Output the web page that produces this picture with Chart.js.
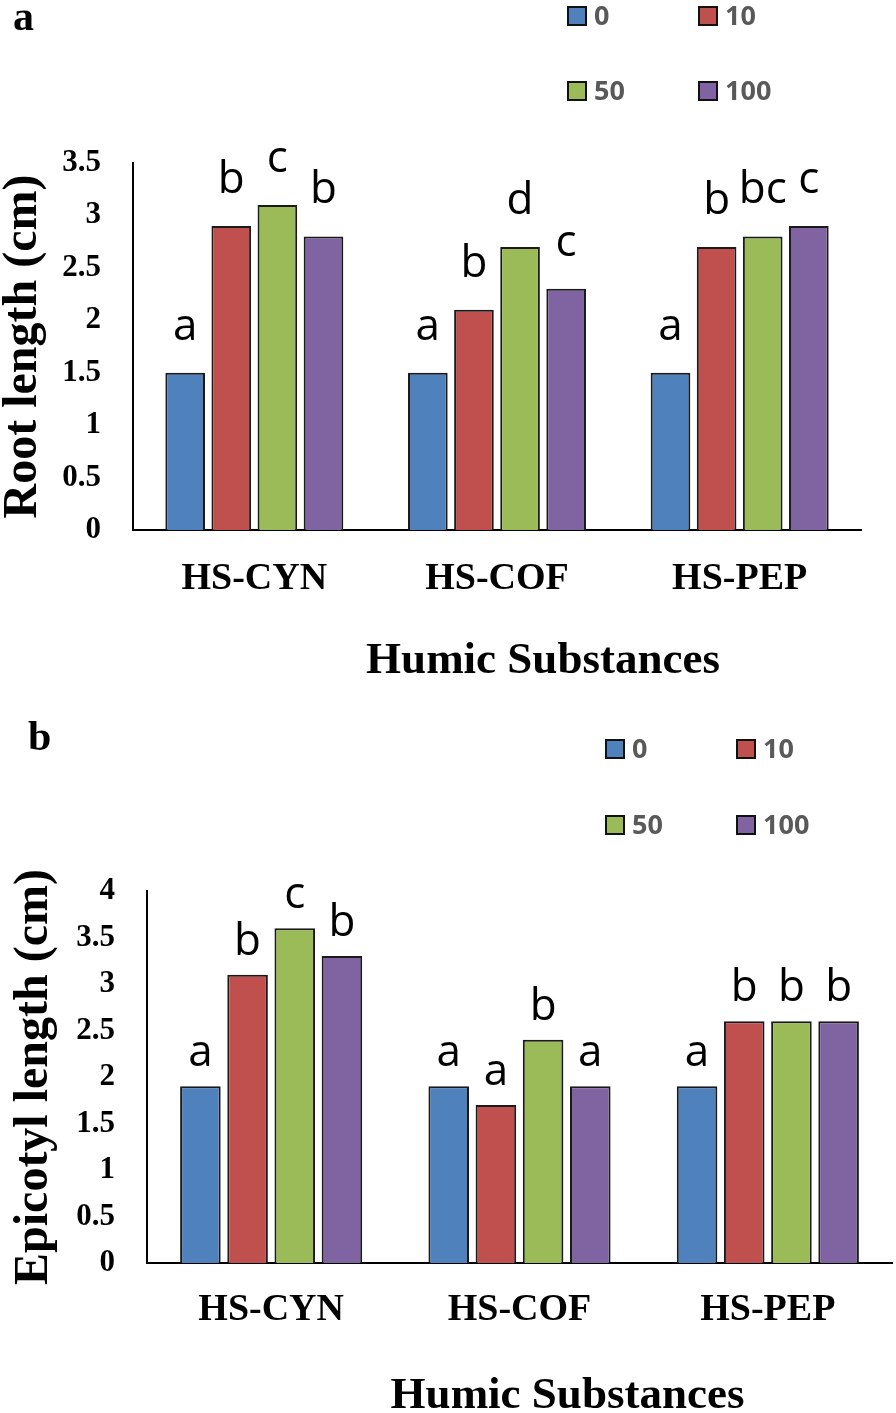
<!DOCTYPE html>
<html>
<head>
<meta charset="utf-8">
<title>Root and epicotyl length</title>
<script src="https://cdn.jsdelivr.net/npm/chart.js@4.4.0/dist/chart.umd.min.js"></script>
<style>
    body { margin: 0; background: #fff; }
    canvas { display: block; }
</style>
</head>
<body>
<canvas id="rootChart" width="896" height="700"></canvas>
<canvas id="epiChart" width="896" height="713"></canvas>
<script>
// Categories and series (concentrations)
const categories = ["HS-CYN", "HS-COF", "HS-PEP"];
const seriesNames = ["0", "10", "50", "100"];
const seriesColors = ["#4F81BD", "#C0504D", "#9BBB59", "#8064A2"];

// Panel a: root length (cm)
const root0 = [1.5, 1.5, 1.5];
const root10 = [2.9, 2.1, 2.7];
const root50 = [3.1, 2.7, 2.8];
const root100 = [2.8, 2.3, 2.9];
const rootLetters0 = ["a", "a", "a"];
const rootLetters10 = ["b", "b", "b"];
const rootLetters50 = ["c", "d", "bc"];
const rootLetters100 = ["b", "c", "c"];

// Panel b: epicotyl length (cm)
const epi0 = [1.9, 1.9, 1.9];
const epi10 = [3.1, 1.7, 2.6];
const epi50 = [3.6, 2.4, 2.6];
const epi100 = [3.3, 1.9, 2.6];
const epiLetters0 = ["a", "a", "a"];
const epiLetters10 = ["b", "a", "b"];
const epiLetters50 = ["c", "b", "b"];
const epiLetters100 = ["b", "a", "b"];

const serif = "'Liberation Serif', 'Times New Roman', serif";
const sans = "'Open Sans', 'Noto Sans', sans-serif";

// Significance letters above every bar
const barLetters = {
    id: "barLetters",
    afterDatasetsDraw(chart, args, opts) {
        const ctx = chart.ctx;
        ctx.save();
        ctx.font = "44px " + sans;
        ctx.fillStyle = "#000";
        ctx.textAlign = "center";
        ctx.textBaseline = "alphabetic";
        chart.data.datasets.forEach((ds, i) => {
            chart.getDatasetMeta(i).data.forEach((bar, j) => {
                ctx.fillText(ds.letters[j], bar.x, bar.y - opts.gap);
            });
        });
        ctx.restore();
    }
};

// 2x2 legend, panel letter and x axis title
const extras = {
    id: "extras",
    afterDraw(chart, args, opts) {
        const ctx = chart.ctx;
        ctx.save();
        ctx.font = "bold 27px " + sans;
        ctx.textAlign = "left";
        ctx.textBaseline = "middle";
        chart.data.datasets.forEach((ds, i) => {
            const x = opts.legendX + (i % 2) * opts.colGap;
            const y = opts.legendY + Math.floor(i / 2) * opts.rowGap;
            ctx.fillStyle = ds.backgroundColor;
            ctx.fillRect(x, y - 9, 18, 18);
            ctx.lineWidth = 2;
            ctx.strokeStyle = "#111";
            ctx.strokeRect(x, y - 9, 18, 18);
            ctx.fillStyle = "#595959";
            ctx.fillText(ds.label, x + 26, y + 1);
        });

        ctx.fillStyle = "#000";
        ctx.textBaseline = "alphabetic";
        ctx.font = "bold 42px " + serif;
        ctx.fillText(opts.panel, opts.panelX, opts.panelY);

        const area = chart.chartArea;
        ctx.textAlign = "center";
        ctx.font = "bold 45px " + serif;
        ctx.fillText("Humic Substances", (area.left + area.right) / 2 + opts.titleShift, opts.titleY);
        ctx.restore();
    }
};

function makeChart(id, o) {
    return new Chart(document.getElementById(id), {
        type: "bar",
        data: {
            labels: categories,
            datasets: o.series.map((vals, i) => ({
                label: seriesNames[i],
                data: vals,
                letters: o.letters[i],
                backgroundColor: seriesColors[i],
                borderColor: "#1a1a1a",
                borderWidth: 2,
                borderSkipped: "bottom",
                categoryPercentage: 0.76,
                barPercentage: 0.86
            }))
        },
        options: {
            responsive: false,
            animation: false,
            layout: { padding: { top: o.top, right: o.right, left: 0, bottom: 0 } },
            plugins: {
                legend: { display: false },
                tooltip: { enabled: false },
                barLetters: { gap: o.gap },
                extras: o.extras
            },
            scales: {
                x: {
                    grid: { display: false, drawTicks: false },
                    border: { color: "#000", width: 2 },
                    ticks: {
                        color: "#000",
                        padding: o.xPad,
                        font: { family: serif, weight: "bold", size: 38 }
                    },
                    afterFit: s => { s.height = o.xHeight; }
                },
                y: {
                    min: 0,
                    max: o.max,
                    grid: { display: false, drawTicks: false },
                    border: { color: "#000", width: 2 },
                    ticks: {
                        stepSize: 0.5,
                        padding: 32,
                        color: "#000",
                        font: { family: serif, weight: "bold", size: 31 },
                        callback: v => String(v)
                    },
                    title: {
                        display: true,
                        text: o.yTitle,
                        color: "#000",
                        font: { family: serif, weight: "bold", size: 48, lineHeight: 1 },
                        padding: { top: o.yTitlePad, bottom: 0 }
                    },
                    afterFit: s => { s.width = o.yWidth; }
                }
            }
        },
        plugins: [barLetters, extras]
    });
}

makeChart("rootChart", {
    series: [root0, root10, root50, root100],
    letters: [rootLetters0, rootLetters10, rootLetters50, rootLetters100],
    max: 3.5,
    yTitle: "Root length (cm)",
    top: 163, right: 35, yWidth: 133, xHeight: 170,
    xPad: 26, yTitlePad: 0, gap: 33,
    extras: { legendX: 568, legendY: 16, colGap: 131, rowGap: 75,
              panel: "a", panelX: 13, panelY: 30, titleShift: 46, titleY: 673 }
});

makeChart("epiChart", {
    series: [epi0, epi10, epi50, epi100],
    letters: [epiLetters0, epiLetters10, epiLetters50, epiLetters100],
    max: 4,
    yTitle: "Epicotyl length (cm)",
    top: 191, right: 4, yWidth: 147, xHeight: 150,
    xPad: 24, yTitlePad: 11, gap: 20,
    extras: { legendX: 606, legendY: 49, colGap: 131, rowGap: 76,
              panel: "b", panelX: 28, panelY: 50, titleShift: 48, titleY: 708 }
});
</script>
</body>
</html>
